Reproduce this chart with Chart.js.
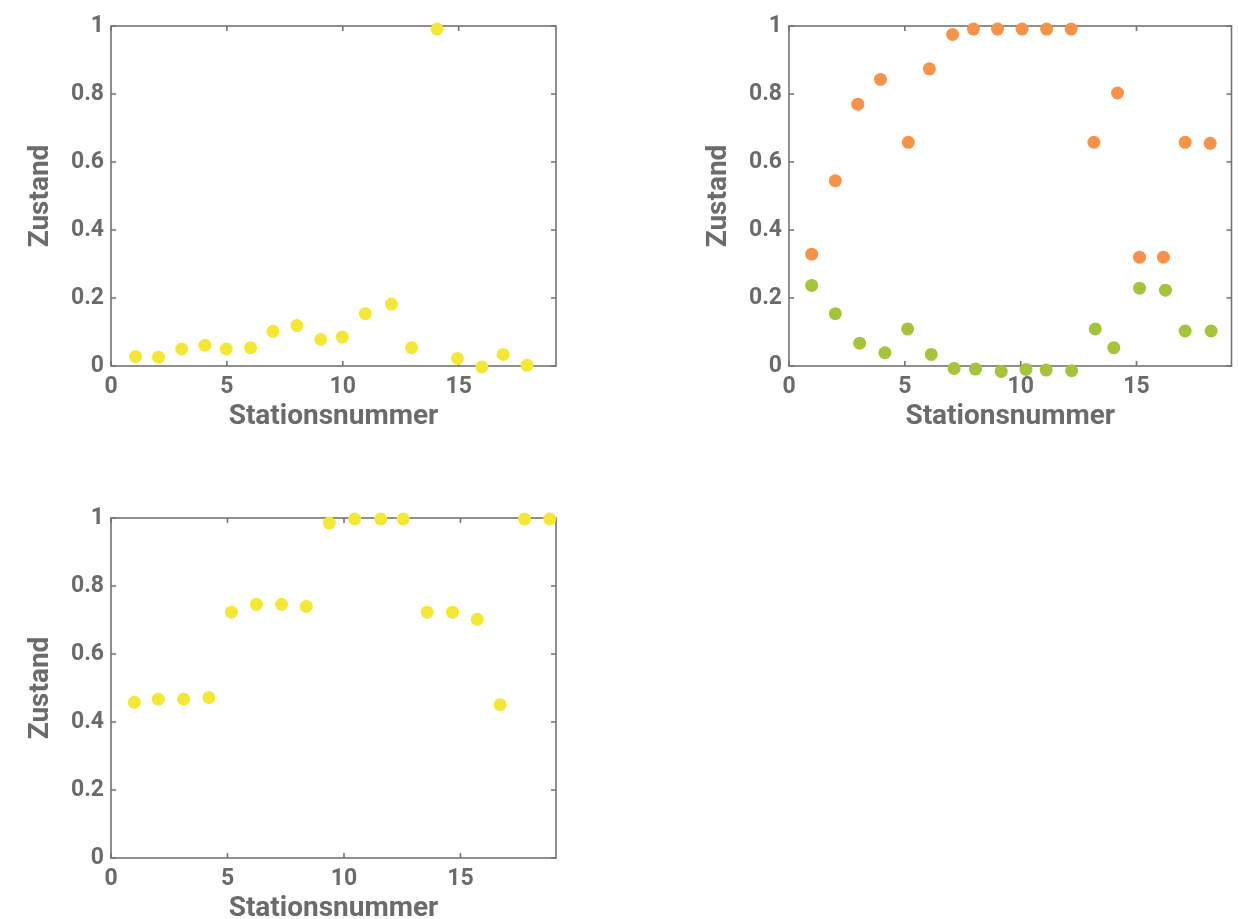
<!DOCTYPE html>
<html>
<head>
<meta charset="utf-8">
<script src="https://cdn.jsdelivr.net/npm/chart.js@4"></script>
<style>
  html, body { margin: 0; padding: 0; background: #fff; overflow: hidden; }
  .panel { position: absolute; }
</style>
</head>
<body>
<div class="panel" style="left:0;top:0;width:600px;height:450px"><canvas id="c1"></canvas></div>
<div class="panel" style="left:678px;top:0;width:560px;height:450px"><canvas id="c2"></canvas></div>
<div class="panel" style="left:0;top:492px;width:600px;height:450px"><canvas id="c3"></canvas></div>
<script>
// Daten
const xTickLabels = ['0', '5', '10', '15'];
const yTickLabels = ['0', '0.2', '0.4', '0.6', '0.8', '1'];

// oben links
const p1Station = [1.06, 2.05, 3.05, 4.05, 4.97, 6.02, 6.99, 8.02, 9.05, 9.98, 10.97, 12.1, 12.97, 14.07, 14.95, 16.0, 16.92, 17.95];
const p1Zustand = [0.028, 0.026, 0.050, 0.061, 0.050, 0.054, 0.102, 0.119, 0.078, 0.085, 0.154, 0.182, 0.054, 0.991, 0.022, -0.003, 0.034, 0.002];

// oben rechts
const p2StationOrange = [0.98, 2.0, 2.97, 3.95, 5.15, 6.06, 7.06, 7.96, 9.0, 10.06, 11.12, 12.18, 13.16, 14.18, 15.13, 16.16, 17.1, 18.18];
const p2ZustandOrange = [0.329, 0.545, 0.770, 0.843, 0.658, 0.874, 0.975, 0.991, 0.991, 0.991, 0.991, 0.991, 0.658, 0.803, 0.320, 0.320, 0.658, 0.655];
const p2StationGreen = [0.98, 2.0, 3.05, 4.14, 5.12, 6.14, 7.13, 8.05, 9.16, 10.23, 11.1, 12.2, 13.22, 14.02, 15.13, 16.25, 17.1, 18.22];
const p2ZustandGreen = [0.237, 0.154, 0.067, 0.039, 0.109, 0.034, -0.007, -0.009, -0.016, -0.010, -0.012, -0.014, 0.109, 0.054, 0.229, 0.223, 0.103, 0.103];

// unten links
const p3Station = [1.0, 2.03, 3.12, 4.2, 5.17, 6.24, 7.32, 8.38, 9.37, 10.46, 11.58, 12.54, 13.57, 14.66, 15.72, 16.7, 17.75, 18.83];
const p3Zustand = [0.458, 0.467, 0.467, 0.472, 0.723, 0.746, 0.746, 0.740, 0.985, 0.997, 0.997, 0.997, 0.723, 0.723, 0.702, 0.451, 0.997, 0.997];

const gray = '#6b6b6e';
const frameGray = '#737375';
const fontFamily = 'Roboto, "DejaVu Sans", sans-serif';

function toPoints(xs, ys) {
    return xs.map((x, i) => ({ x: x, y: ys[i] }));
}

// Rahmen mit Ticks nach innen
const innerTicks = {
    id: 'innerTicks',
    beforeDatasetsDraw(chart) {
        const { ctx, chartArea: a, scales: { x, y } } = chart;
        const len = 5;
        ctx.save();
        ctx.strokeStyle = frameGray;
        ctx.lineWidth = 1.6;
        ctx.strokeRect(a.left, a.top, a.right - a.left, a.bottom - a.top);
        ctx.beginPath();
        x.ticks.forEach(t => {
            const px = x.getPixelForValue(t.value);
            ctx.moveTo(px, a.bottom); ctx.lineTo(px, a.bottom - len);
            ctx.moveTo(px, a.top); ctx.lineTo(px, a.top + len);
        });
        y.ticks.forEach(t => {
            const py = y.getPixelForValue(t.value);
            ctx.moveTo(a.left, py); ctx.lineTo(a.left + len, py);
            ctx.moveTo(a.right, py); ctx.lineTo(a.right - len, py);
        });
        ctx.stroke();
        ctx.restore();
    }
};

function makeConfig(datasets, xMax, padRight) {
    return {
        type: 'scatter',
        data: { datasets: datasets },
        options: {
            responsive: true,
            maintainAspectRatio: false,
            animation: false,
            layout: { padding: { top: 26, right: padRight, bottom: 10, left: 0 } },
            plugins: { legend: { display: false }, tooltip: { enabled: false } },
            elements: { point: { radius: 6.5, borderWidth: 0 } },
            scales: {
                x: {
                    type: 'linear',
                    min: 0,
                    max: xMax,
                    grid: { display: false, drawTicks: false },
                    border: { display: false },
                    afterFit: s => { s.height = 74; },
                    ticks: {
                        stepSize: 5,
                        includeBounds: false,
                        padding: 7,
                        color: gray,
                        font: { family: fontFamily, size: 23, weight: 'bold' },
                        maxRotation: 0,
                        callback: (v, i) => xTickLabels[i]
                    },
                    title: {
                        display: true,
                        text: 'Stationsnummer',
                        color: gray,
                        font: { family: fontFamily, size: 28, weight: 'bold' },
                        padding: { top: 0, bottom: 6 }
                    }
                },
                y: {
                    type: 'linear',
                    min: 0,
                    max: 1,
                    grid: { display: false, drawTicks: false },
                    border: { display: false },
                    afterFit: s => { s.width = 111; },
                    ticks: {
                        stepSize: 0.2,
                        padding: 7,
                        color: gray,
                        font: { family: fontFamily, size: 23, weight: 'bold' },
                        callback: (v, i) => yTickLabels[i]
                    },
                    title: {
                        display: true,
                        text: 'Zustand',
                        color: gray,
                        font: { family: fontFamily, size: 28, weight: 'bold' },
                        padding: { top: 24, bottom: 0 }
                    }
                }
            }
        },
        plugins: [innerTicks]
    };
}

window.addEventListener('DOMContentLoaded', () => {
    new Chart(document.getElementById('c1'), makeConfig([{
        data: toPoints(p1Station, p1Zustand),
        backgroundColor: '#f4e835',
        clip: false
    }], 19.2, 44));

    new Chart(document.getElementById('c2'), makeConfig([{
        data: toPoints(p2StationOrange, p2ZustandOrange),
        backgroundColor: '#f79249',
        clip: false
    }, {
        data: toPoints(p2StationGreen, p2ZustandGreen),
        backgroundColor: '#a4c53a',
        clip: false
    }], 19.1, 6));

    new Chart(document.getElementById('c3'), makeConfig([{
        data: toPoints(p3Station, p3Zustand),
        backgroundColor: '#f4e835',
        clip: false
    }], 19.1, 44));
});
</script>
</body>
</html>
